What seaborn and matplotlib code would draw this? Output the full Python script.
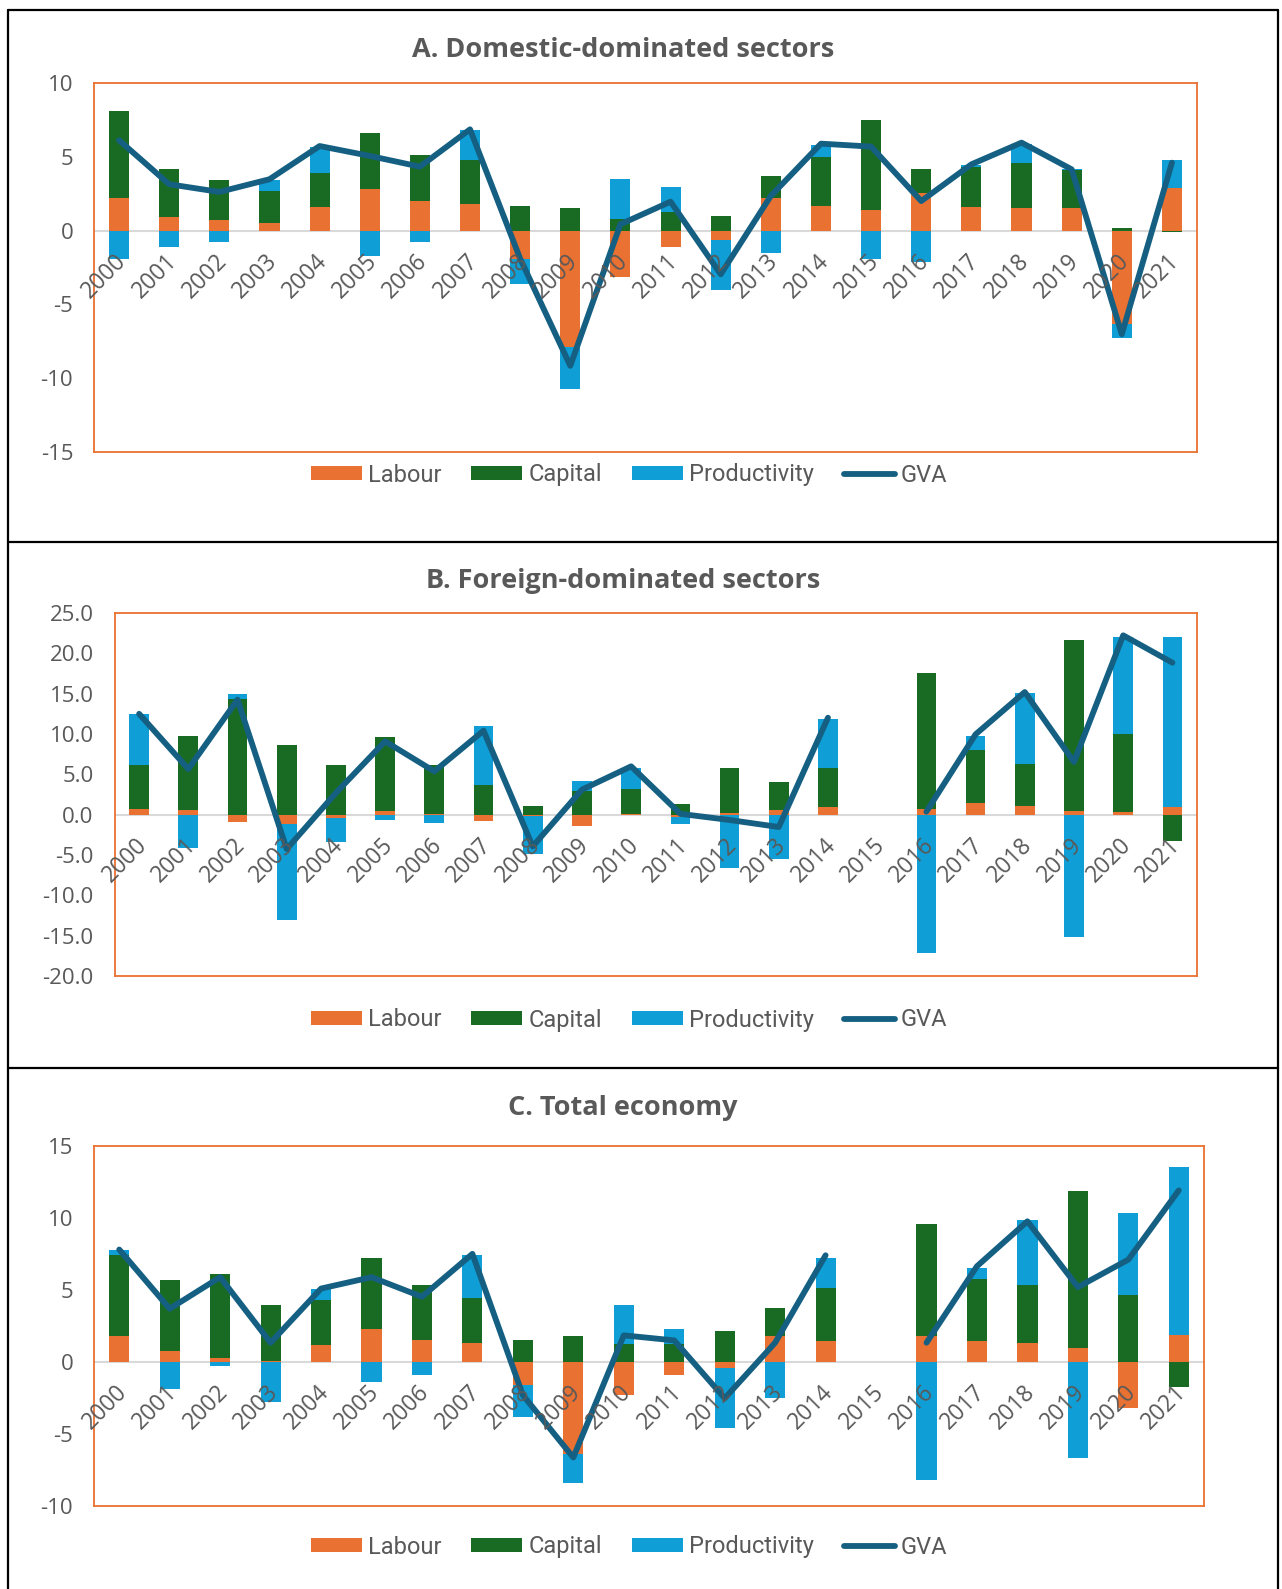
import numpy as np
import pandas as pd
import matplotlib
matplotlib.use("Agg")
import matplotlib.pyplot as plt
from matplotlib.lines import Line2D
from matplotlib.patches import Patch
import seaborn as sns

years = [str(y) for y in range(2000, 2022)]

# A. Domestic-dominated sectors
dom_labour = [2.19, 0.9, 0.7, 0.5, 1.6, 2.82, 1.99, 1.81, -1.9, -7.92, -3.12,
              -1.08, -0.61, 2.19, 1.69, 1.4, 2.57, 1.6, 1.51, 1.51, -6.34, 2.89]
dom_capital = [5.92, 3.28, 2.71, 2.19, 2.3, 3.77, 3.11, 2.98, 1.69, 1.51, 0.79,
               1.26, 0.99, 1.51, 3.3, 6.09, 1.61, 2.71, 3.07, 2.58, 0.2, -0.07]
dom_productivity = [-1.9, -1.08, -0.79, 0.72, 1.79, -1.69, -0.79, 2.0, -1.69, -2.78, 2.73,
                    1.72, -3.39, -1.49, 0.81, -1.9, -2.1, 0.11, 1.27, 0.05, -0.95, 1.92]
dom_gva = [6.12, 3.14, 2.62, 3.48, 5.73, 5.06, 4.33, 6.86, -1.9, -9.16, 0.43,
           1.96, -2.96, 2.35, 5.89, 5.69, 2.0, 4.49, 5.96, 4.15, -7.02, 4.6]

# B. Foreign-dominated sectors (no data for 2015)
for_labour = [0.74, 0.54, -0.95, -1.12, -0.45, 0.45, 0.05, -0.83, -0.2, -1.45, 0.12,
              -0.35, 0.2, 0.58, 0.91, np.nan, 0.66, 1.4, 1.03, 0.41, 0.29, 0.99]
for_capital = [5.38, 9.17, 14.3, 8.68, 6.2, 9.18, 6.07, 3.72, 1.12, 2.89, 3.02,
               1.28, 5.63, 3.47, 4.92, np.nan, 16.86, 6.62, 5.25, 21.28, 9.67, -3.26]
for_productivity = [6.4, -4.13, 0.66, -11.98, -2.9, -0.66, -1.03, 7.23, -4.63, 1.32, 2.65,
                    -0.85, -6.65, -5.45, 5.99, np.nan, -17.1, 1.73, 8.84, -15.12, 12.06, 21.03]
for_gva = [12.5, 5.66, 14.26, -4.26, 2.7, 9.09, 5.37, 10.41, -3.93, 3.1, 5.99,
           0.1, -0.66, -1.53, 12.02, np.nan, 0.37, 9.96, 15.2, 6.53, 22.23, 18.84]

# C. Total economy (no data for 2015)
tot_labour = [1.78, 0.76, 0.28, 0.09, 1.18, 2.26, 1.55, 1.29, -1.62, -6.4, -2.31,
              -0.9, -0.39, 1.78, 1.48, np.nan, 1.78, 1.48, 1.29, 0.99, -3.21, 1.89]
tot_capital = [5.68, 4.9, 5.86, 3.86, 3.16, 4.99, 3.78, 3.14, 1.55, 1.78, 1.22,
               1.22, 2.15, 1.98, 3.67, np.nan, 7.78, 4.25, 4.04, 10.86, 4.64, -1.71]
tot_productivity = [0.3, -1.89, -0.3, -2.79, 0.72, -1.39, -0.9, 3.01, -2.19, -2.01, 2.75,
                    1.04, -4.21, -2.49, 2.1, np.nan, -8.18, 0.81, 4.51, -6.67, 5.71, 11.64]
tot_gva = [7.81, 3.7, 5.89, 1.34, 5.1, 5.89, 4.53, 7.51, -2.3, -6.63, 1.85,
           1.5, -2.52, 1.34, 7.41, np.nan, 1.34, 6.65, 9.77, 5.2, 7.11, 11.92]

titles = ["A. Domestic-dominated sectors", "B. Foreign-dominated sectors", "C. Total economy"]
components = ["Labour", "Capital", "Productivity"]

C_LABOUR = "#E97132"
C_CAPITAL = "#196B24"
C_PROD = "#0F9ED5"
C_GVA = "#156082"
C_TEXT = "#595959"
COLORS = [C_LABOUR, C_CAPITAL, C_PROD]

sns.set_theme(style="white")
plt.rcParams["font.family"] = ["Open Sans", "DejaVu Sans"]

W, H = 1282, 1589
fig = plt.figure(figsize=(W / 100, H / 100), dpi=100)


def frac_box(left, top, right, bottom):
    return [left / W, 1 - bottom / H, (right - left) / W, (bottom - top) / H]


panels = [
    dict(data=(dom_labour, dom_capital, dom_productivity, dom_gva),
         box=frac_box(94, 83, 1197, 452), ylim=(-15, 10), fmt="{:.0f}",
         title_y=50, legend_y=475),
    dict(data=(for_labour, for_capital, for_productivity, for_gva),
         box=frac_box(114.5, 613, 1197, 976), ylim=(-20, 25), fmt="{:.1f}",
         title_y=581, legend_y=1020),
    dict(data=(tot_labour, tot_capital, tot_productivity, tot_gva),
         box=frac_box(94, 1146, 1204, 1506), ylim=(-10, 15), fmt="{:.0f}",
         title_y=1108, legend_y=1547),
]

for title, p in zip(titles, panels):
    labour, capital, prod, gva = p["data"]
    df = pd.DataFrame({"year": years, "Labour": labour, "Capital": capital,
                       "Productivity": prod, "GVA": gva})
    x = np.arange(len(df))

    ax = fig.add_axes(p["box"])
    ax.axhline(0, color="#D9D9D9", lw=1.5, zorder=1)

    # Excel-style stacking: positives upward, negatives downward
    pos_base = np.zeros(len(df))
    neg_base = np.zeros(len(df))
    for comp, col in zip(components, COLORS):
        v = df[comp].fillna(0).to_numpy()
        bottom = np.where(v >= 0, pos_base, neg_base)
        ax.bar(x, v, bottom=bottom, width=0.4, color=col, zorder=2, linewidth=0)
        pos_base = pos_base + np.where(v > 0, v, 0)
        neg_base = neg_base + np.where(v < 0, v, 0)

    # GVA line, broken where data is missing
    valid = df["GVA"].notna().to_numpy()
    seg_id = np.cumsum(~valid)
    df["pos"] = x
    for sid in np.unique(seg_id[valid]):
        seg = df[valid & (seg_id == sid)]
        sns.lineplot(data=seg, x="pos", y="GVA", ax=ax, color=C_GVA, lw=4.2,
                     zorder=3, solid_capstyle="round", solid_joinstyle="round",
                     legend=False)

    lo, hi = p["ylim"]
    ax.set_xlim(-0.5, len(df) - 0.5)
    ax.set_ylim(lo, hi)
    yt = np.arange(lo, hi + 0.1, 5)
    ax.set_yticks(yt)
    ax.set_yticklabels([p["fmt"].format(t) for t in yt])
    ax.tick_params(axis="y", length=0, pad=15, labelsize=16, labelcolor=C_TEXT)
    ax.set_xticks([])
    ax.set_xlabel("")
    ax.set_ylabel("")
    for s in ax.spines.values():
        s.set_visible(True)
        s.set_color(C_LABOUR)
        s.set_linewidth(1.3)

    for i, yr in enumerate(years):
        ax.annotate(yr, xy=(i, 0), xytext=(3, -19.5), textcoords="offset points",
                    ha="right", va="center", rotation=45, rotation_mode="anchor",
                    fontsize=16.5, color=C_TEXT, zorder=4)

    fig.text(623 / W, 1 - p["title_y"] / H, title, ha="center", va="center",
             fontsize=19.5, fontweight="bold", color=C_TEXT)

    handles = [Patch(facecolor=c, edgecolor="none") for c in COLORS]
    handles.append(Line2D([0], [0], color=C_GVA, lw=4.2, solid_capstyle="round"))
    fig.legend(handles, components + ["GVA"], loc="center",
               bbox_to_anchor=(629 / W, 1 - p["legend_y"] / H), ncol=4,
               frameon=False, handlelength=2.16, handleheight=0.5,
               handletextpad=0.25, columnspacing=1.27,
               prop={"family": ["Roboto", "DejaVu Sans"], "size": 17},
               labelcolor=C_TEXT)

# table-like frame around the three panels
frame_kw = dict(color="black", lw=1.6, transform=fig.transFigure)


def fy(y):
    return 1 - y / H


def fx(xp):
    return xp / W


fig.add_artist(Line2D([fx(8), fx(8)], [fy(10), fy(H)], **frame_kw))
fig.add_artist(Line2D([fx(1278), fx(1278)], [fy(10), fy(H)], **frame_kw))
for yy in (10, 542, 1068):
    fig.add_artist(Line2D([fx(8), fx(1278)], [fy(yy), fy(yy)], **frame_kw))

fig.savefig("out.png", dpi=100, facecolor="white")
